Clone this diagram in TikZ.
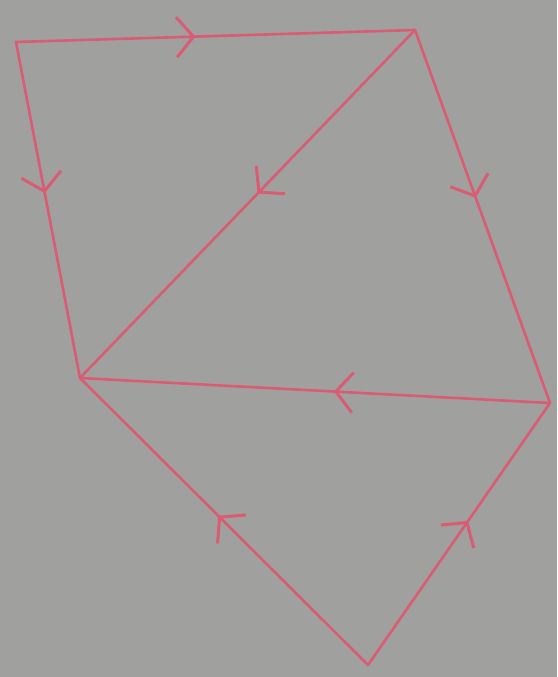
\documentclass[tikz,border=0pt]{standalone}
\usetikzlibrary{arrows.meta,decorations.markings}
\definecolor{paper}{RGB}{160,160,158}
\definecolor{pen}{RGB}{218,92,116}
\tikzset{
  edge/.style={draw=pen, line width=2.6pt, line cap=round, line join=round},
  midarrow/.style={postaction={decorate}, decoration={markings,
    mark=at position #1 with {\arrow[pen, line width=3pt]{Straight Barb[length=17pt, width=40pt]}}}}
}
\begin{document}
\begin{tikzpicture}[x=1pt,y=-1pt]
  \fill[paper] (0,0) rectangle (557,677);
  \useasboundingbox (0,0) rectangle (557,677);
  \coordinate (A) at (16,42);
  \coordinate (B) at (415,30);
  \coordinate (C) at (80,378);
  \coordinate (D) at (550,403);
  \coordinate (E) at (368,665);
  \draw[edge, midarrow=0.45] (A) -- (B);
  \draw[edge, midarrow=0.45] (A) -- (C);
  \draw[edge, midarrow=0.47] (B) -- (C);
  \draw[edge, midarrow=0.45] (B) -- (D);
  \draw[edge, midarrow=0.46] (D) -- (C);
  \draw[edge, midarrow=0.52] (E) -- (C);
  \draw[edge, midarrow=0.55] (E) -- (D);
\end{tikzpicture}
\end{document}
